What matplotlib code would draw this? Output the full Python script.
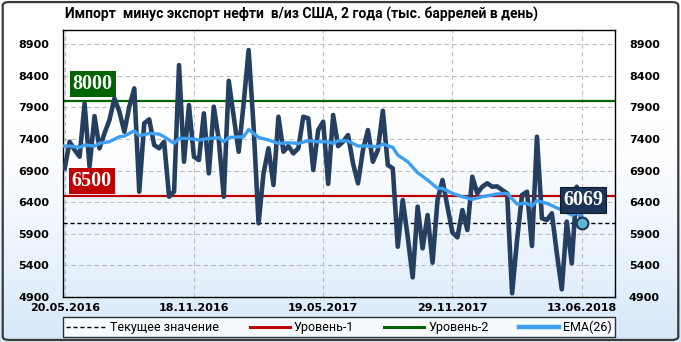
import numpy as np
import matplotlib.pyplot as plt
from matplotlib.lines import Line2D
from matplotlib.patches import FancyBboxPatch
import matplotlib.transforms as mtransforms

# weekly values, thousand barrels per day
values = [6936, 7357, 7226, 7120, 7964, 6962, 7763, 7253, 7490, 7700,
          8043, 7832, 7515, 7911, 8201, 6566, 7648, 7711, 7305, 7253,
          7357, 6487, 6566, 8570, 7041, 7937, 7120, 7067, 7806, 6857,
          7911, 7384, 6487, 8321, 7753, 7199, 7964, 8808, 7594, 6066,
          6857, 7253, 6672, 7753, 7199, 7288, 7173, 7253, 7753, 7727,
          6909, 7542, 7674, 6690, 7780, 7288, 7357, 7463, 7015, 6699,
          7226, 7542, 7041, 7226, 7847, 6988, 6936, 5696, 6435, 5854,
          5211, 6329, 5670, 6197, 5443, 6435, 6751, 6329, 5918, 5844,
          6276, 5960, 6803, 6540, 6645, 6699, 6645, 6650, 6593, 6540,
          4959, 5802, 6514, 6566, 5707, 7436, 6145, 6118, 6224, 5591,
          5022, 6092, 5433, 6645, 6069]
ema_idx = [0, 1, 3, 4, 6, 7, 9, 11, 12, 14, 15, 17, 19, 20, 22, 23, 25, 27,
           29, 31, 32, 33, 36, 37, 39, 41, 43, 45, 47, 49, 51, 53, 54, 55, 57,
           59, 61, 63, 64, 66, 67, 69, 71, 73, 75, 76, 78, 80, 82, 84, 87, 89,
           91, 93, 94, 95, 97, 100, 102, 103, 104]
ema_vals = [7289, 7289, 7268, 7305, 7289, 7331, 7357, 7436, 7446, 7531, 7452,
            7489, 7478, 7436, 7331, 7410, 7410, 7384, 7410, 7420, 7357, 7425,
            7436, 7552, 7425, 7384, 7331, 7341, 7331, 7373, 7357, 7357, 7331,
            7373, 7368, 7289, 7289, 7278, 7320, 7268, 7146, 7041, 6867, 6751,
            6619, 6619, 6540, 6487, 6445, 6487, 6530, 6540, 6371, 6382, 6340,
            6424, 6382, 6276, 6197, 6224, 6180]
current = 6069
level1 = 6500
level2 = 8000
xtick_pos = [0, 26, 52, 78, 104]
xtick_labels = ["20.05.2016", "18.11.2016", "19.05.2017", "29.11.2017", "13.06.2018"]
yticks = list(range(4900, 9000, 500))

title = "Импорт  минус экспорт нефти  в/из США, 2 года (тыс. баррелей в день)"
legend_labels = ["Текущее значение", "Уровень-1", "Уровень-2", "EMA(26)"]

narrow = ["Roboto", "DejaVu Sans"]
serif = ["Liberation Serif", "DejaVu Serif"]

fig = plt.figure(figsize=(6.81, 3.42), dpi=100)

# background gradient white -> light blue
bg = fig.add_axes([0, 0, 1, 1], zorder=-10)
t = np.linspace(0, 1, 256)
w = np.clip((t - 0.35) / 0.65, 0, 1) ** 1.3
top = np.array([1.0, 1.0, 1.0])
bot = np.array([0.84, 0.91, 0.98])
grad = (top[None, :] * (1 - w[:, None]) + bot[None, :] * w[:, None])[:, None, :]
bg.imshow(grad, aspect="auto", extent=[0, 1, 0, 1], origin="upper")
bg.set_xlim(0, 1)
bg.set_ylim(0, 1)
bg.axis("off")
bg.add_patch(FancyBboxPatch((0.004, 0.006), 0.992, 0.988,
                            boxstyle="round,pad=0,rounding_size=0.01",
                            fill=False, ec="#3a3a3a", lw=1.6,
                            transform=bg.transAxes))

ax = fig.add_axes([63 / 681, 45 / 342, 552 / 681, 267 / 342])
ax.patch.set_alpha(0)

x = np.arange(len(values))
ax.set_xlim(-0.34, 110.7)
ax.set_ylim(4900, 9125)

ax.set_yticks(yticks)
ax.set_xticks(xtick_pos)
ax.set_xticklabels(xtick_labels)
ax.grid(True, color="#bdbdbd", ls=(0, (4, 3)), lw=0.8)
ax.set_axisbelow(True)
ax.tick_params(axis="both", length=0, labelsize=8)
ax.tick_params(axis="y", labelright=True, pad=10)
ax.tick_params(axis="x", pad=4)
for lab in ax.get_xticklabels() + ax.get_yticklabels():
    lab.set_fontweight("bold")
for s in ax.spines.values():
    s.set_color("black")
    s.set_linewidth(1)

ax.axhline(current, color="black", ls=(0, (3, 2)), lw=1, zorder=2)
ax.axhline(level1, color="#c00000", lw=1.6, zorder=2)
ax.axhline(level2, color="#006400", lw=1.6, zorder=2)

ax.plot(x, values, color="#243f60", lw=3.3, solid_joinstyle="round", zorder=3)
ax.plot(ema_idx, ema_vals, color="#3d9ff2", lw=2.4, zorder=4)
ax.plot(x[-1], values[-1], "o", ms=8.5, mfc="#5db7d0", mec="#1d3557", mew=1.5, zorder=5)

trans = mtransforms.blended_transform_factory(ax.transAxes, ax.transData)
ax.text(0.0175, level2 + 270, str(level2), transform=trans, color="white",
        fontsize=14.5, fontweight="bold", family=serif, va="center", ha="left",
        bbox=dict(boxstyle="square,pad=0.15", fc="#006400", ec="none"), zorder=6)
ax.text(0.0155, level1 + 243, str(level1), transform=trans, color="white",
        fontsize=14.5, fontweight="bold", family=serif, va="center", ha="left",
        bbox=dict(boxstyle="square,pad=0.15", fc="#c00000", ec="none"), zorder=6)
ax.text(x[-1] + 0.3, current + 370, str(current), color="white",
        fontsize=14.5, fontweight="bold", family=serif, va="center", ha="center",
        bbox=dict(boxstyle="square,pad=0.15", fc="#1c3455", ec="#0d1a2a", lw=0.8), zorder=6)

fig.text(65 / 681, 1 - 14 / 342, title, family=narrow, fontweight="bold",
         fontsize=10, ha="left", va="center")

handles = [Line2D([], [], color="black", ls=(0, (3, 2)), lw=1),
           Line2D([], [], color="#c00000", lw=2.2),
           Line2D([], [], color="#006400", lw=2.2),
           Line2D([], [], color="#3d9ff2", lw=3.2)]
leg = ax.legend(handles, legend_labels, loc="lower left", ncol=4, mode="expand",
                bbox_to_anchor=(0, -0.15, 1, 0.075), borderaxespad=0,
                frameon=True, fancybox=False,
                handlelength=3.2, handletextpad=0.3, borderpad=0.25,
                prop={"family": narrow, "size": 9})
leg.get_frame().set_edgecolor("black")
leg.get_frame().set_linewidth(1)
leg.get_frame().set_facecolor("white")

fig.savefig("out.png", dpi=100)
